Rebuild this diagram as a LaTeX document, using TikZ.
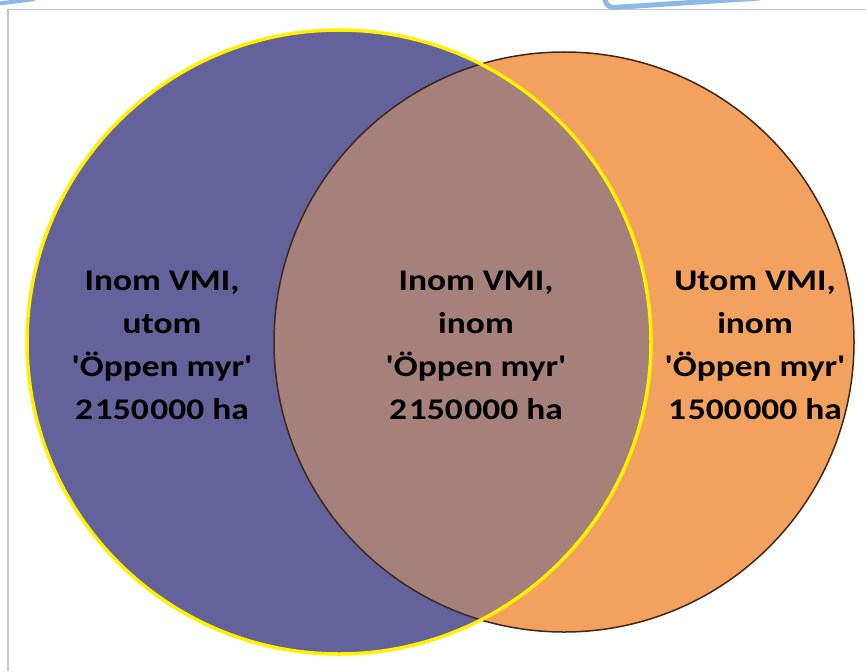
\documentclass[tikz,border=0pt]{standalone}
\usepackage{fontspec}
\setmainfont{Carlito}
\usepackage{graphicx}

\definecolor{vmiBlue}{HTML}{64629B}
\definecolor{myrOrange}{HTML}{F2A25E}
\definecolor{overlapBrown}{HTML}{A6807A}
\definecolor{rimBrown}{HTML}{3E2818}
\definecolor{frameGray}{HTML}{C8C8C8}
\definecolor{calloutBlue}{HTML}{8CB9E6}

\def\blueX{339}
\def\blueY{342}
\def\blueR{312}
\def\orangeX{564}
\def\orangeY{342}
\def\orangeR{290}

\newcommand{\vennlabel}[1]{\scalebox{1.18}[1]{\begin{tabular}{@{}c@{}}#1\end{tabular}}}
\newcommand{\gap}{\kern1.5pt}

\begin{document}
\begin{tikzpicture}[x=1pt, y=-1pt,
    lbl/.style={inner sep=0pt, font=\bfseries\fontsize{30}{43}\selectfont}]
  \useasboundingbox (0,0) rectangle (866,671);
  \clip (0,0) rectangle (866,671);

  % frame and cut-off callout
  \draw[frameGray, line width=1.5pt] (8,671) -- (8,9.5) -- (866,9.5);
  \draw[calloutBlue, line width=5pt, rounded corners=8pt]
    (603,-20) -- (606,8) -- (760,-2);
  \draw[calloutBlue, line width=4pt] (-5,4) -- (35,-1);

  % circles
  \fill[vmiBlue] (\blueX,\blueY) circle [radius=\blueR];
  \fill[myrOrange] (\orangeX,\orangeY) circle [radius=\orangeR];
  \begin{scope}
    \clip (\blueX,\blueY) circle [radius=\blueR];
    \fill[overlapBrown] (\orangeX,\orangeY) circle [radius=\orangeR];
  \end{scope}
  \draw[rimBrown, line width=1.5pt] (\orangeX,\orangeY) circle [radius=\orangeR];
  \draw[yellow, line width=3.5pt] (\blueX,\blueY) circle [radius=\blueR];

  % labels
  \node[lbl] (inomUtom) at (162,346)
    {\vennlabel{Inom VMI,\\ utom\\ \textquotesingle Öppen myr\textquotesingle\\ 2\gap150\gap000 ha}};
  \node[lbl] (inomInom) at (476,346)
    {\vennlabel{Inom VMI,\\ inom\\ \textquotesingle Öppen myr\textquotesingle\\ 2\gap150\gap000 ha}};
  \node[lbl] (utomInom) at (755,346)
    {\vennlabel{Utom VMI,\\ inom\\ \textquotesingle Öppen myr\textquotesingle\\ 1\gap500\gap000 ha}};
\end{tikzpicture}
\end{document}
